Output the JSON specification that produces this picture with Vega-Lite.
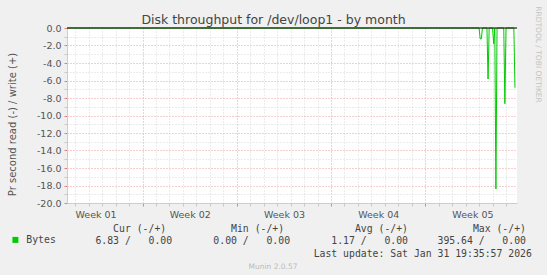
{
  "$schema": "https://vega.github.io/schema/vega-lite/v6.json",
  "width": 450,
  "height": 175,
  "autosize": "none",
  "padding": {"left": 67, "top": 28, "right": 30, "bottom": 72},
  "background": "#f0f0f0",
  "config": {"view": {"fill": "#ffffff", "stroke": null}, "font": "DejaVu Sans"},
  "title": {"text": "Munin 2.0.57", "orient": "bottom", "anchor": "middle", "frame": "group", "dx": -19, "offset": 5, "font": "DejaVu Sans", "fontSize": 7.5, "fontWeight": "normal", "color": "#bbbbbb"},
  "layer": [
    {
      "data": {"values": [
        {"time": "2025-12-29T10:00:00Z", "read": 0},
        {"time": "2026-01-29T00:00:00Z", "read": 0},
        {"time": "2026-01-29T02:00:00Z", "read": -1.25},
        {"time": "2026-01-29T04:00:00Z", "read": -1.25},
        {"time": "2026-01-29T06:00:00Z", "read": 0},
        {"time": "2026-01-29T14:00:00Z", "read": 0},
        {"time": "2026-01-29T16:00:00Z", "read": -5.83},
        {"time": "2026-01-29T18:00:00Z", "read": 0},
        {"time": "2026-01-30T00:00:00Z", "read": 0},
        {"time": "2026-01-30T02:00:00Z", "read": -1.8},
        {"time": "2026-01-30T04:00:00Z", "read": 0},
        {"time": "2026-01-30T06:00:00Z", "read": -18.4},
        {"time": "2026-01-30T08:00:00Z", "read": 0},
        {"time": "2026-01-30T20:00:00Z", "read": 0},
        {"time": "2026-01-30T22:00:00Z", "read": -8.65},
        {"time": "2026-01-31T00:00:00Z", "read": 0},
        {"time": "2026-01-31T14:00:00Z", "read": 0},
        {"time": "2026-01-31T16:00:00Z", "read": -6.83}
      ]},
      "mark": {"type": "line", "strokeWidth": 1, "interpolate": "linear"},
      "encoding": {
        "x": {
          "field": "time", "type": "temporal",
          "scale": {"type": "utc", "nice": false, "domain": [
            {"year": 2025, "month": 12, "date": 29, "hours": 9, "minutes": 16, "utc": true},
            {"year": 2026, "month": 1, "date": 31, "hours": 19, "minutes": 36, "utc": true}
          ]},
          "axis": {
            "tickCount": {"interval": "day", "step": 1},
            "grid": true,
            "gridColor": {"condition": {"test": "utcday(datum.value) === 0", "value": "#e8a0a0"}, "value": "#d8d8d8"},
            "gridDash": [1, 2],
            "gridWidth": 1,
            "ticks": true,
            "tickSize": 3,
            "tickColor": {"condition": {"test": "utcday(datum.value) === 0", "value": "#e08080"}, "value": "#c8c8c8"},
            "domain": true,
            "domainColor": "#c8c8f8",
            "labelExpr": "utcday(datum.value) === 3 ? 'Week ' + utcFormat(datum.value, '%V') : ''",
            "labelOffset": 6.8,
            "labelPadding": 3,
            "labelFont": "DejaVu Sans",
            "labelFontSize": 9.5,
            "labelColor": "#555555",
            "labelOverlap": false,
            "labelFlush": false,
            "labelBound": false,
            "title": [
              "\u200b\u00a0\u00a0\u00a0\u00a0\u00a0Cur\u00a0(-/+)\u00a0\u00a0\u00a0\u00a0\u00a0\u00a0\u00a0\u00a0\u00a0\u00a0\u00a0Min\u00a0(-/+)\u00a0\u00a0\u00a0\u00a0\u00a0\u00a0\u00a0\u00a0\u00a0\u00a0\u00a0\u00a0Avg\u00a0(-/+)\u00a0\u00a0\u00a0\u00a0\u00a0\u00a0\u00a0\u00a0\u00a0\u00a0\u00a0Max\u00a0(-/+)",
              "\u200b\u00a0\u00a06.83\u00a0/\u00a0\u00a0\u00a00.00\u00a0\u00a0\u00a0\u00a0\u00a0\u00a0\u00a00.00\u00a0/\u00a0\u00a0\u00a00.00\u00a0\u00a0\u00a0\u00a0\u00a0\u00a0\u00a01.17\u00a0/\u00a0\u00a0\u00a00.00\u00a0\u00a0\u00a0\u00a0\u00a0395.64\u00a0/\u00a0\u00a0\u00a00.00",
              "\u200b\u00a0\u00a0\u00a0\u00a0\u00a0\u00a0\u00a0\u00a0\u00a0\u00a0\u00a0\u00a0\u00a0\u00a0\u00a0\u00a0\u00a0\u00a0\u00a0\u00a0\u00a0\u00a0\u00a0\u00a0\u00a0\u00a0\u00a0\u00a0\u00a0\u00a0\u00a0\u00a0\u00a0\u00a0\u00a0\u00a0\u00a0\u00a0\u00a0Last\u00a0update:\u00a0Sat\u00a0Jan\u00a031\u00a019:35:57\u00a02026"
            ],
            "titleFont": "DejaVu Sans Mono",
            "titleFontSize": 9.8,
            "titleFontWeight": "normal",
            "titleColor": "#444444",
            "titleAlign": "left",
            "titleBaseline": "alphabetic",
            "titleX": 16.1,
            "titleY": 28.6,
            "titleLineHeight": 12.3
          }
        },
        "y": {
          "field": "read", "type": "quantitative",
          "scale": {"domain": [-20, 0], "nice": false, "zero": false},
          "axis": {
            "values": [-20, -19, -18, -17, -16, -15, -14, -13, -12, -11, -10, -9, -8, -7, -6, -5, -4, -3, -2, -1, 0],
            "grid": true,
            "gridColor": {"condition": {"test": "datum.value % 2 === 0", "value": "#e8a0a0"}, "value": "#d8d8d8"},
            "gridDash": [1, 2],
            "tickSize": 3,
            "tickColor": {"condition": {"test": "datum.value % 2 === 0", "value": "#e08080"}, "value": "#c8c8c8"},
            "domainColor": "#c8c8f8",
            "labelExpr": "datum.value % 2 === 0 ? (datum.value < 0 ? '-' : '') + format(abs(datum.value), '.1f') : ''",
            "labelPadding": 3,
            "labelFont": "DejaVu Sans",
            "labelFontSize": 9.5,
            "labelColor": "#555555",
            "labelOverlap": false,
            "labelFlush": false,
            "labelBound": false,
            "title": "Pr second read (-) / write (+)",
            "titleFont": "DejaVu Sans",
            "titleFontSize": 10,
            "titleFontWeight": "normal",
            "titleColor": "#555555",
            "titleAngle": -90,
            "titleX": -55,
            "titleY": 96,
            "titleAlign": "center",
            "titleBaseline": "middle"
          }
        },
        "color": {
          "datum": "Bytes", "type": "nominal",
          "scale": {"range": ["#00cc00"]},
          "legend": {
            "orient": "none", "legendX": -56.5, "legendY": 207, "title": null, "padding": 0,
            "symbolType": "square", "symbolSize": 9, "symbolStrokeWidth": 3,
            "symbolStrokeColor": "#00cc00", "symbolFillColor": "#00cc00",
            "labelFont": "DejaVu Sans Mono", "labelFontSize": 9.8, "labelColor": "#444444", "labelOffset": 6
          }
        }
      }
    },
    {
      "data": {"values": [{}]},
      "mark": {"type": "rule", "color": "#000000", "strokeWidth": 1},
      "encoding": {
        "x": {
          "datum": {"year": 2025, "month": 12, "date": 29, "hours": 9, "minutes": 16, "utc": true},
          "type": "temporal",
          "scale": {"type": "utc", "nice": false, "domain": [
            {"year": 2025, "month": 12, "date": 29, "hours": 9, "minutes": 16, "utc": true},
            {"year": 2026, "month": 1, "date": 31, "hours": 19, "minutes": 36, "utc": true}
          ]},
          "axis": {
            "orient": "top", "domain": false, "ticks": false, "labels": false, "grid": false,
            "title": "Disk throughput for /dev/loop1 - by month",
            "titleFont": "DejaVu Sans", "titleFontSize": 12.5, "titleFontWeight": "normal", "titleColor": "#444444",
            "titleX": 206, "titleY": -4.3, "titleAlign": "center", "titleBaseline": "alphabetic"
          }
        },
        "x2": {"datum": {"year": 2026, "month": 1, "date": 31, "hours": 19, "minutes": 36, "utc": true}},
        "y": {
          "datum": 0, "type": "quantitative",
          "scale": {"domain": [-20, 0], "nice": false, "zero": false},
          "axis": {
            "orient": "right", "domain": false, "ticks": false, "labels": false, "grid": false,
            "title": "RRDTOOL / TOBI OETIKER",
            "titleFont": "DejaVu Sans", "titleFontSize": 7.5, "titleFontWeight": "normal", "titleColor": "#c4c4c4",
            "titleAngle": 90, "titleX": 20, "titleY": 26, "titleAlign": "center", "titleBaseline": "middle"
          }
        }
      }
    }
  ],
  "resolve": {"scale": {"x": "independent", "y": "independent"}}
}
